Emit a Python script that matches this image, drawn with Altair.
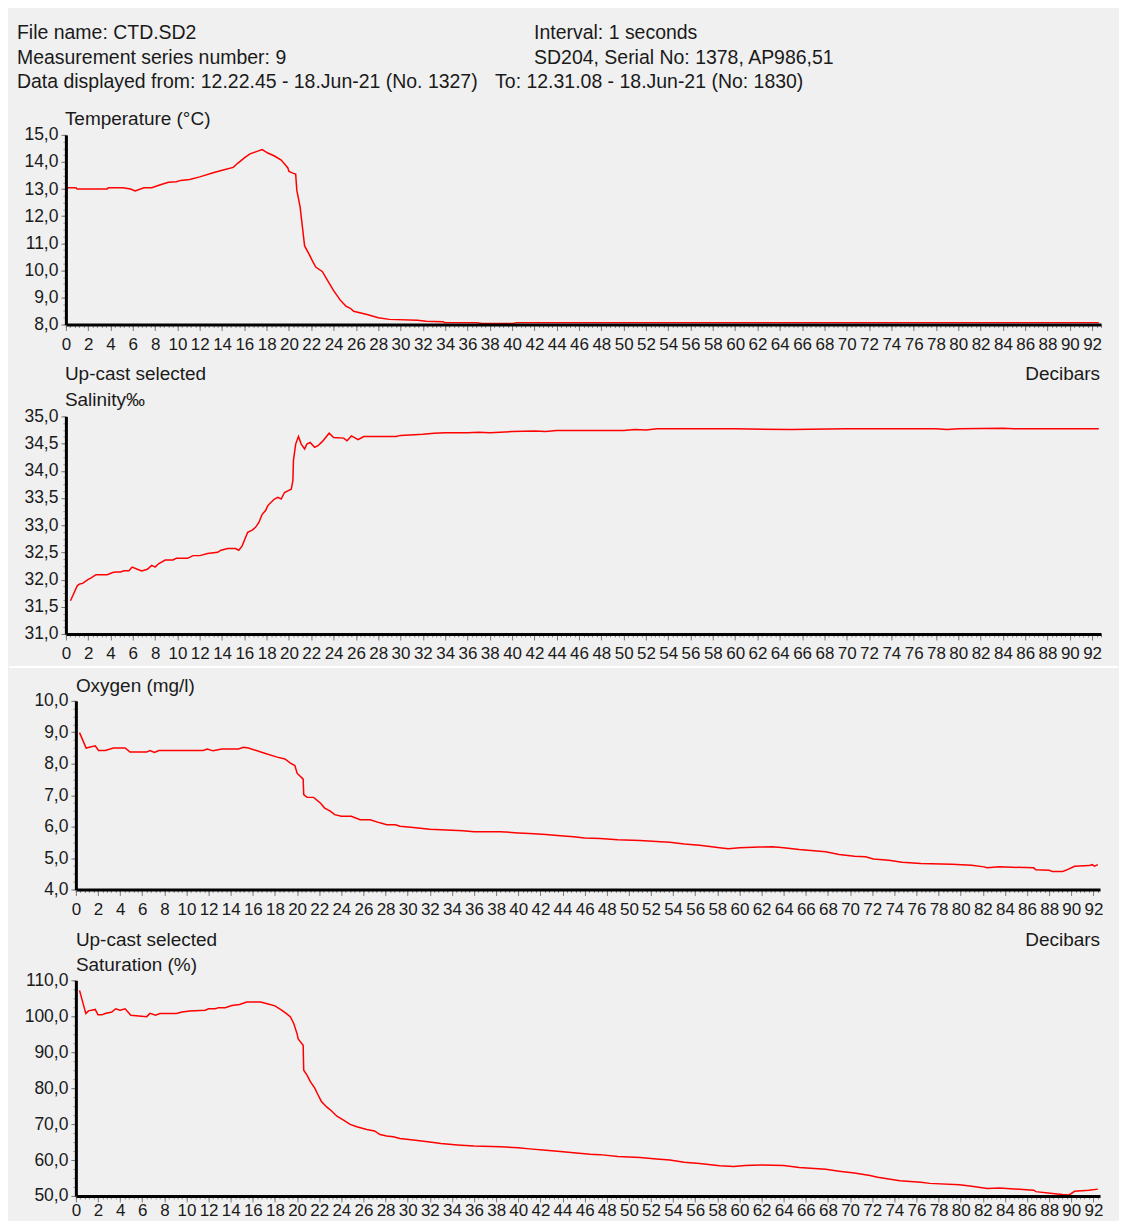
import altair as alt
import pandas as pd

FONT = "Liberation Sans"
TXT = "#1a1a1a"
RED = "#ff0000"
BG = "#f0f0f0"

HEADER_LEFT = ["File name: CTD.SD2",
               "Measurement series number: 9",
               "Data displayed from: 12.22.45 - 18.Jun-21 (No. 1327)"]
HEADER_RIGHT = ["Interval: 1 seconds", "SD204, Serial No: 1378, AP986,51"]
HEADER_TO = "To: 12.31.08 - 18.Jun-21 (No: 1830)"

X_MAJOR = list(range(0, 93, 2))
X_MINOR = [round(i * 0.4, 1) for i in range(0, 233)]

T_TICKS = [8, 9, 10, 11, 12, 13, 14, 15]
S_TICKS = [31.0, 31.5, 32.0, 32.5, 33.0, 33.5, 34.0, 34.5, 35.0]
O_TICKS = [4, 5, 6, 7, 8, 9, 10]
SAT_TICKS = [50, 60, 70, 80, 90, 100, 110]

# Temperature (°C) vs decibars
T_DEPTH = [0.05, 0.9, 1.0, 3.7, 3.8, 5.1, 5.8, 6.2, 7.0, 7.7, 8.4, 9.2, 9.9, 10.3, 11.1, 12.0,
           13.2, 14.1, 15.0, 15.4, 16.0, 16.5, 17.2, 17.6, 18.1, 18.7, 19.3, 19.7, 19.9, 20.0,
           20.4, 20.6, 20.7, 21.0, 21.4, 21.8, 22.1, 22.4, 23.0, 23.4, 24.0, 24.6, 25.1, 25.5,
           25.8, 27.0, 28.0, 29.0, 31.5, 32.3, 33.8, 34.0, 36.8, 37.3, 40.1, 40.4, 50.0, 60.0,
           70.0, 80.0, 92.6]
T_VAL = [13.05, 13.05, 13.0, 13.0, 13.05, 13.05, 13.0, 12.93, 13.05, 13.05, 13.15, 13.25, 13.27,
         13.32, 13.35, 13.45, 13.6, 13.7, 13.8, 13.95, 14.15, 14.3, 14.4, 14.46, 14.33, 14.22,
         14.07, 13.88, 13.78, 13.65, 13.58, 13.55, 12.96, 12.33, 10.9, 10.6, 10.35, 10.12, 9.95,
         9.67, 9.25, 8.9, 8.68, 8.6, 8.49, 8.37, 8.25, 8.19, 8.16, 8.12, 8.1, 8.07, 8.07, 8.04,
         8.04, 8.07, 8.07, 8.07, 8.07, 8.07, 8.07]

# Salinity (‰)
S_DEPTH = [0.41, 1.03, 1.24, 1.5, 1.97, 2.26, 2.7, 3.15, 3.7, 4.2, 4.5, 4.9, 5.2, 5.65, 5.94, 6.4,
           6.8, 7.3, 7.7, 8.0, 8.3, 8.9, 9.6, 9.9, 10.9, 11.4, 12.0, 12.7, 13.6, 13.9, 14.5, 15.2,
           15.5, 15.8, 16.3, 16.7, 17.0, 17.3, 17.6, 17.9, 18.1, 18.4, 18.7, 19.0, 19.3, 19.6,
           19.9, 20.2, 20.35, 20.4, 20.6, 20.85, 21.1, 21.4, 21.6, 21.9, 22.3, 22.6, 23.0, 23.6,
           24.0, 24.9, 25.2, 25.6, 26.2, 26.7, 29.6, 30.0, 32.0, 33.0, 34.0, 36.0, 37.0, 38.0,
           40.0, 42.0, 43.0, 44.0, 50.0, 51.0, 52.0, 53.0, 56.0, 60.0, 65.0, 70.0, 78.0, 79.0,
           80.0, 84.0, 85.0, 92.6]
S_VAL = [31.61, 31.89, 31.92, 31.93, 32.0, 32.03, 32.09, 32.09, 32.09, 32.13, 32.14, 32.14, 32.16,
         32.16, 32.23, 32.19, 32.16, 32.19, 32.26, 32.23, 32.29, 32.36, 32.36, 32.39, 32.39, 32.44,
         32.44, 32.48, 32.5, 32.54, 32.57, 32.57, 32.54, 32.62, 32.87, 32.91, 32.96, 33.05, 33.2,
         33.27, 33.36, 33.42, 33.48, 33.51, 33.48, 33.6, 33.63, 33.66, 33.82, 34.19, 34.49, 34.63,
         34.49, 34.4, 34.49, 34.52, 34.43, 34.46, 34.54, 34.69, 34.61, 34.6, 34.55, 34.64, 34.57,
         34.63, 34.63, 34.65, 34.67, 34.69, 34.7, 34.7, 34.71, 34.7, 34.72, 34.73, 34.72, 34.74,
         34.74, 34.76, 34.75, 34.77, 34.77, 34.77, 34.76, 34.77, 34.77, 34.76, 34.77, 34.78, 34.77,
         34.77]

# Oxygen (mg/l)
O_DEPTH = [0.33, 0.93, 1.3, 1.75, 2.05, 2.65, 3.4, 4.45, 4.9, 6.4, 6.7, 7.1, 7.5, 11.5, 11.9, 12.4,
           13.2, 14.7, 15.15, 15.6, 17.0, 18.2, 18.9, 19.4, 19.8, 20.0, 20.55, 20.6, 20.9, 21.5,
           22.1, 22.5, 23.0, 23.4, 24.0, 24.9, 25.7, 26.6, 27.5, 28.1, 28.9, 29.3, 30.5, 32.0,
           33.0, 35.0, 36.0, 38.4, 40.0, 41.0, 42.5, 43.8, 45.0, 46.0, 47.4, 49.0, 51.0, 52.5,
           53.7, 55.0, 56.4, 57.5, 58.2, 59.0, 60.0, 61.8, 63.0, 64.0, 65.4, 67.8, 69.0, 70.4,
           71.4, 72.1, 73.5, 74.7, 76.4, 79.2, 81.0, 82.1, 82.4, 83.5, 86.6, 86.8, 88.0, 88.3,
           89.2, 89.5, 90.3, 91.6, 91.9, 92.1, 92.4]
O_VAL = [8.99, 8.5, 8.53, 8.57, 8.42, 8.42, 8.5, 8.5, 8.37, 8.37, 8.42, 8.36, 8.42, 8.42, 8.47,
         8.41, 8.47, 8.47, 8.52, 8.5, 8.34, 8.21, 8.15, 8.02, 7.94, 7.7, 7.51, 7.02, 6.93, 6.93,
         6.75, 6.59, 6.49, 6.38, 6.33, 6.33, 6.22, 6.22, 6.12, 6.06, 6.06, 6.01, 5.97, 5.92, 5.9,
         5.87, 5.84, 5.84, 5.8, 5.78, 5.75, 5.71, 5.68, 5.64, 5.62, 5.58, 5.56, 5.53, 5.5, 5.45,
         5.41, 5.36, 5.33, 5.3, 5.33, 5.35, 5.36, 5.33, 5.27, 5.2, 5.11, 5.06, 5.04, 4.97, 4.93,
         4.87, 4.83, 4.8, 4.77, 4.72, 4.69, 4.72, 4.69, 4.63, 4.61, 4.57, 4.57, 4.61, 4.74, 4.76,
         4.79, 4.74, 4.79]

# Saturation (%)
SAT_DEPTH = [0.33, 0.9, 1.14, 1.75, 2.0, 2.35, 2.65, 3.25, 3.6, 4.0, 4.45, 4.97, 6.4, 6.7, 7.2,
             7.6, 9.1, 9.6, 10.3, 11.7, 12.0, 12.6, 12.9, 13.5, 14.1, 14.8, 15.45, 16.7, 17.3,
             18.0, 18.6, 19.1, 19.4, 19.7, 20.0, 20.1, 20.55, 20.6, 20.9, 21.2, 21.6, 21.9, 22.2,
             22.7, 23.1, 23.6, 24.2, 24.8, 25.4, 26.3, 27.0, 27.5, 28.1, 28.7, 29.3, 30.5, 32.0,
             33.0, 34.5, 36.0, 38.4, 40.0, 41.0, 42.5, 43.8, 45.0, 46.5, 47.4, 49.0, 51.0, 52.5,
             53.7, 55.0, 56.4, 58.2, 59.5, 60.5, 62.0, 64.0, 65.4, 67.8, 69.0, 70.4, 71.8, 72.5,
             74.5, 76.4, 77.2, 79.9, 81.0, 82.4, 83.5, 86.6, 86.8, 88.3, 89.2, 89.8, 90.3, 91.6,
             92.4]
SAT_VAL = [107.2, 100.75, 101.5, 101.9, 100.4, 100.4, 100.75, 101.2, 102.1, 101.7, 102.1, 100.3,
           99.9, 100.8, 100.3, 100.75, 100.75, 101.2, 101.5, 101.7, 102.1, 102.1, 102.4, 102.4,
           103.0, 103.3, 103.96, 104.0, 103.5, 102.9, 101.7, 100.6, 99.8, 98.0, 95.1, 93.7, 91.9,
           85.0, 83.6, 81.8, 80.0, 78.1, 76.3, 74.7, 73.7, 72.2, 71.1, 69.9, 69.25, 68.5, 68.1,
           67.1, 66.7, 66.5, 66.0, 65.6, 65.0, 64.6, 64.2, 63.9, 63.7, 63.4, 63.1, 62.7, 62.4,
           62.0, 61.6, 61.5, 61.0, 60.7, 60.3, 60.0, 59.4, 59.0, 58.4, 58.2, 58.5, 58.6, 58.5,
           57.9, 57.4, 56.9, 56.4, 55.7, 55.2, 54.2, 53.8, 53.5, 53.1, 52.7, 52.1, 52.2, 51.6,
           51.2, 50.7, 50.4, 50.3, 51.3, 51.6, 51.9]

Y_LABEL_EXPR = "replace(format(datum.value, '.1f'), '.', ',')"


def frange(a, b, step):
    out = []
    v = a
    while v <= b + 1e-9:
        out.append(round(v, 4))
        v += step
    return out


def text_layer(txt, x, y, align="left", size=19):
    return alt.Chart(pd.DataFrame({"t": [txt]})).mark_text(
        align=align, baseline="middle", font=FONT, fontSize=size, color=TXT
    ).encode(x=alt.value(x), y=alt.value(y), text="t:N")


def panel(depth, vals, ydom, ymajor, yminor, xmax, xoff, width, height, extras, lpad):
    df = pd.DataFrame({"d": depth, "v": vals})
    xscale = alt.Scale(domain=[0, xmax], range=[xoff, width], nice=False, zero=False)
    yscale = alt.Scale(domain=ydom, nice=False, zero=False)
    minor = alt.Chart(df).mark_line(opacity=0).encode(
        x=alt.X("d:Q", scale=xscale, axis=alt.Axis(
            orient="bottom", values=[v for v in X_MINOR if v <= xmax], labels=False,
            domain=False, tickSize=3, tickColor="#8a8a8a", tickWidth=1, grid=False,
            title=None, zindex=1)),
        y=alt.Y("v:Q", scale=yscale, axis=alt.Axis(
            orient="left", offset=-xoff, values=yminor, labels=False, domain=False,
            tickSize=3, tickColor="#9a9a9a", tickWidth=1, grid=False, title=None, zindex=1)),
    )
    main = alt.Chart(df).mark_line(color=RED, strokeWidth=1.5).encode(
        x=alt.X("d:Q", scale=xscale, axis=alt.Axis(
            orient="bottom", values=X_MAJOR, format="d", labelOverlap=False, labelFlush=False,
            tickSize=6, tickColor="#7a7a7a", tickWidth=1, domainColor="#000000",
            domainWidth=3, labelFont=FONT, labelFontSize=17, labelColor=TXT,
            labelPadding=lpad, grid=False, title=None, zindex=1)),
        y=alt.Y("v:Q", scale=yscale, axis=alt.Axis(
            orient="left", offset=-xoff, values=ymajor, labelExpr=Y_LABEL_EXPR,
            labelOverlap=False, labelFlush=False, tickSize=5, tickColor="#7a7a7a",
            tickWidth=1, domainColor="#000000", domainWidth=3, labelFont=FONT,
            labelFontSize=17.5, labelColor=TXT, labelPadding=3, grid=False, title=None,
            zindex=1)),
    )
    return alt.layer(*extras, minor, main).resolve_axis(
        x="independent", y="independent"
    ).properties(width=width, height=height)


def spacer(h):
    return alt.Chart(pd.DataFrame({"a": [0]})).mark_rule(opacity=0).encode(
        x=alt.value(0), y=alt.value(0), y2=alt.value(1)
    ).properties(width=1, height=h)


# page area covered by the chart: x 8..1119, y 8..1221 (P1 plot origin at page 65,134)
background = alt.Chart(pd.DataFrame({"a": [0]})).mark_rect(color=BG).encode(
    x=alt.value(-57), x2=alt.value(1054), y=alt.value(-126), y2=alt.value(1087)
)

p1_extras = [
    background,
    text_layer(HEADER_LEFT[0], -49, -102, size=19.5),
    text_layer(HEADER_LEFT[1], -49, -77, size=19.5),
    text_layer(HEADER_LEFT[2], -49, -53, size=19.5),
    text_layer(HEADER_RIGHT[0], 469, -102, size=19.5),
    text_layer(HEADER_RIGHT[1], 469, -77, size=19.5),
    text_layer(HEADER_TO, 430, -53, size=19.5),
    text_layer("Temperature (°C)", -1, -16),
    text_layer("Up-cast selected", -1, 240),
    text_layer("Decibars", 1036, 240, align="right"),
]
p2_extras = [text_layer("Salinity‰", -1, -16)]
separator = alt.Chart(pd.DataFrame({"a": [0]})).mark_rule(color="white", strokeWidth=2).encode(
    x=alt.value(-57), x2=alt.value(1054), y=alt.value(-34)
)
p3_extras = [
    separator,
    text_layer("Oxygen (mg/l)", 10, -15),
    text_layer("Up-cast selected", 10, 240),
    text_layer("Decibars", 1036, 240, align="right"),
]
p4_extras = [text_layer("Saturation (%)", 10, -15)]

P1 = panel(T_DEPTH, T_VAL, [8, 15], T_TICKS, frange(8, 15, 0.25), 92.8, 0, 1037, 190,
           p1_extras, 6)
P2 = panel(S_DEPTH, S_VAL, [31, 35], S_TICKS, frange(31, 35, 0.125), 92.8, 0, 1037, 218,
           p2_extras, 6)
P3 = panel(O_DEPTH, O_VAL, [4, 10], O_TICKS, frange(4, 10, 0.25), 92.6, 10, 1036, 189,
           p3_extras, 6)
P4 = panel(SAT_DEPTH, SAT_VAL, [50, 110], SAT_TICKS, frange(50, 110, 2.5), 92.6, 10, 1036, 216,
           p4_extras, 0.5)

chart = alt.vconcat(
    P1, spacer(92), P2, spacer(67), P3, spacer(91), P4, spacing=0, bounds="flush"
).properties(padding=0).configure(
    background=BG, font=FONT
).configure_view(stroke=None)

chart.save("out.html", embed_options={"renderer": "svg", "actions": False})
